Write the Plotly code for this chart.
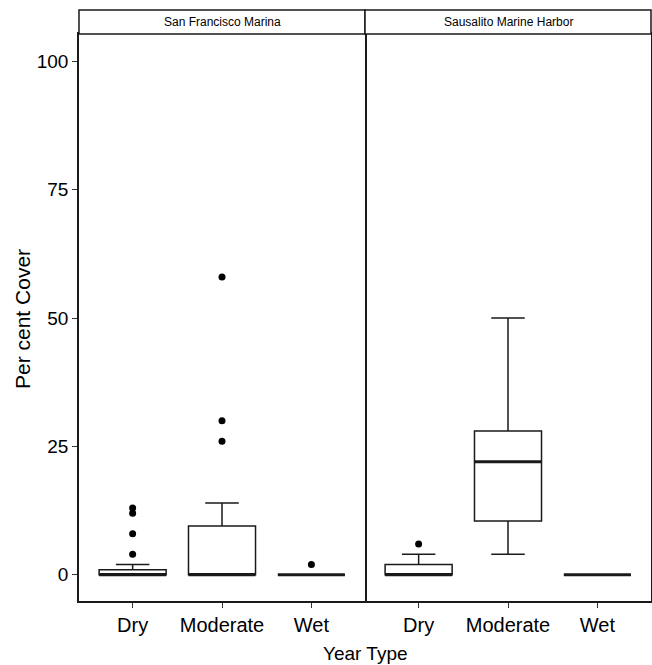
import plotly.graph_objects as go
from plotly.subplots import make_subplots

groups = ["Dry", "Moderate", "Wet"]
panels = ["San Francisco Marina", "Sausalito Marine Harbor"]

# San Francisco Marina
sf_q1 = [0, 0, 0]
sf_median = [0, 0, 0]
sf_q3 = [1, 9.5, 0]
sf_lower = [0, 0, 0]
sf_upper = [2, 14, 0]
sf_out_x = ["Dry", "Dry", "Dry", "Dry", "Moderate", "Moderate", "Moderate", "Wet"]
sf_out_y = [13, 12, 8, 4, 26, 30, 58, 2]

# Sausalito Marine Harbor
sm_q1 = [0, 10.5, 0]
sm_median = [0, 22, 0]
sm_q3 = [2, 28, 0]
sm_lower = [0, 4, 0]
sm_upper = [4, 50, 0]
sm_out_x = ["Dry"]
sm_out_y = [6]

y_ticks = [0, 25, 50, 75, 100]

FONT = "Liberation Sans, Arial, sans-serif"

fig = make_subplots(rows=1, cols=2, shared_yaxes=True, horizontal_spacing=0)

series = [
    (sf_q1, sf_median, sf_q3, sf_lower, sf_upper, sf_out_x, sf_out_y),
    (sm_q1, sm_median, sm_q3, sm_lower, sm_upper, sm_out_x, sm_out_y),
]

for i, (q1, med, q3, lo, hi, ox, oy) in enumerate(series):
    col = i + 1
    fig.add_trace(go.Box(
        x=groups, q1=q1, median=med, q3=q3, lowerfence=lo, upperfence=hi,
        width=0.75, fillcolor="white", line=dict(color="#1a1a1a", width=1.5),
        boxpoints=False, showlegend=False, hoverinfo="skip",
    ), row=1, col=col)
    # thicker median line
    fig.add_trace(go.Box(
        x=groups, q1=med, median=med, q3=med, lowerfence=med, upperfence=med,
        width=0.75, fillcolor="rgba(0,0,0,0)", line=dict(color="#1a1a1a", width=3),
        boxpoints=False, showlegend=False, hoverinfo="skip",
    ), row=1, col=col)
    fig.add_trace(go.Scatter(
        x=ox, y=oy, mode="markers",
        marker=dict(color="black", size=7),
        showlegend=False, hoverinfo="skip", cliponaxis=False,
    ), row=1, col=col)

line_style = dict(linecolor="#1a1a1a", linewidth=1.5, showgrid=False, zeroline=False)

for col in (1, 2):
    fig.update_xaxes(
        type="category", categoryorder="array", categoryarray=groups,
        range=[-0.6, 2.6], ticks="outside", ticklen=5, tickwidth=1.2,
        tickcolor="#333333", tickfont=dict(family=FONT, size=20, color="black"),
        showline=True, mirror=True,
        row=1, col=col, **line_style,
    )

fig.update_yaxes(
    range=[-5.1, 105.3], tickvals=y_ticks, ticktext=[str(v) for v in y_ticks],
    ticks="outside", ticklen=5, tickwidth=1.2, tickcolor="#333333",
    tickfont=dict(family=FONT, size=19, color="black"),
    showline=True, mirror=True,
    row=1, col=1, **line_style,
)
fig.update_yaxes(
    range=[-5.1, 105.3], showticklabels=False, ticks="",
    showline=True, mirror=False, side="right",
    row=1, col=2, **line_style,
)

plot_h = 665 - 34 - 64
strip_h = 24 / plot_h
shapes = []
annotations = []
for i, name in enumerate(panels):
    x0 = 0.5 * i
    x1 = 0.5 * (i + 1)
    shapes.append(dict(
        type="rect", xref="paper", yref="paper", x0=x0, x1=x1, y0=1, y1=1 + strip_h,
        fillcolor="white", line=dict(color="#1a1a1a", width=1.5), layer="above",
    ))
    annotations.append(dict(
        text=name, xref="paper", yref="paper", x=(x0 + x1) / 2, y=1 + strip_h / 2,
        xanchor="center", yanchor="middle", showarrow=False,
        font=dict(family=FONT, size=12, color="black"),
    ))

annotations.append(dict(
    text="Year Type", xref="paper", yref="paper", x=0.5, y=-40 / plot_h,
    xanchor="center", yanchor="top", showarrow=False,
    font=dict(family=FONT, size=19, color="black"),
))
annotations.append(dict(
    text="Per cent Cover", xref="paper", yref="paper", x=-57 / 572,
    y=1 - (319 - 34) / plot_h,
    xanchor="center", yanchor="middle", showarrow=False, textangle=-90,
    font=dict(family=FONT, size=21, color="black"),
))

fig.update_layout(
    width=652, height=665,
    margin=dict(l=79, r=1, t=34, b=64),
    paper_bgcolor="white", plot_bgcolor="white",
    boxmode="overlay",
    shapes=shapes, annotations=annotations,
)

fig.write_html(
    "out.html",
    config={"displayModeBar": False},
    post_script="document.body.style.margin='0';document.body.style.overflow='hidden';",
)
